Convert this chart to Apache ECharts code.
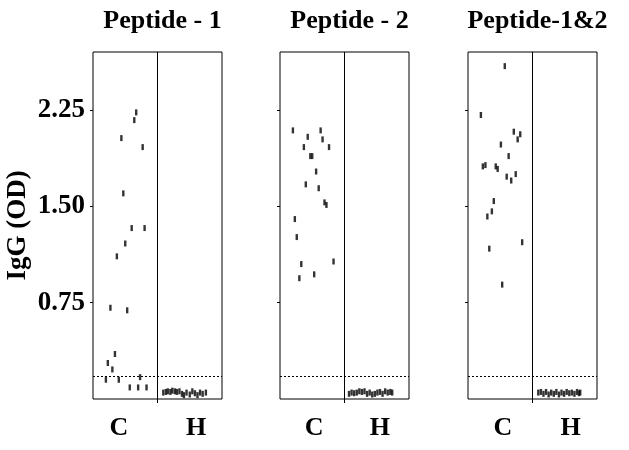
<!DOCTYPE html>
<html>
<head>
<meta charset="utf-8">
<script src="https://cdn.jsdelivr.net/npm/echarts@6/dist/echarts.min.js"></script>
<style>
html,body{margin:0;padding:0;background:#fff;}
#chart{width:629px;height:450px;}
</style>
</head>
<body>
<div id="chart"></div>
<script>
// ---- data ----
var panelTitles = ['Peptide - 1', 'Peptide - 2', 'Peptide-1&2'];
var groupLabels = ['C', 'H'];
var yTickValues = [0.75, 1.50, 2.25];
var cutoff = 0.18;

var p1C_y = [2.23,2.17,2.03,1.96,1.60,1.33,1.33,1.21,1.11,0.71,0.69,0.35,0.28,0.23,0.15,0.15,0.17,0.09,0.09,0.09];
var p1C_x = [0.67,0.64,0.44,0.77,0.47,0.60,0.80,0.50,0.37,0.27,0.53,0.34,0.23,0.30,0.20,0.40,0.73,0.57,0.70,0.83];
var p1H_y = [0.05,0.055,0.06,0.055,0.065,0.06,0.055,0.06,0.04,0.03,0.05,0.035,0.06,0.045,0.03,0.05,0.04,0.05];
var p1H_x = [1.09,1.13,1.16,1.20,1.23,1.27,1.30,1.34,1.38,1.41,1.45,1.50,1.54,1.58,1.62,1.66,1.70,1.75];

var p2C_y = [2.09,2.09,2.04,2.02,1.96,1.96,1.89,1.89,1.77,1.67,1.64,1.53,1.51,1.40,1.26,1.07,1.05,0.97,0.94];
var p2C_x = [0.20,0.63,0.43,0.66,0.37,0.76,0.47,0.50,0.56,0.40,0.60,0.69,0.72,0.23,0.26,0.83,0.33,0.53,0.30];
var p2H_y = [0.04,0.05,0.045,0.05,0.06,0.055,0.06,0.04,0.05,0.035,0.04,0.05,0.055,0.04,0.06,0.05,0.055,0.05];
var p2H_x = [1.07,1.11,1.15,1.19,1.23,1.27,1.31,1.35,1.39,1.43,1.47,1.51,1.55,1.59,1.63,1.67,1.71,1.74];

var p3C_y = [2.59,2.21,2.08,2.06,2.02,1.98,1.89,1.81,1.82,1.81,1.79,1.73,1.70,1.75,1.54,1.46,1.42,1.22,1.17,0.89];
var p3C_x = [0.57,0.20,0.71,0.81,0.77,0.51,0.63,0.23,0.27,0.43,0.46,0.60,0.67,0.74,0.40,0.37,0.30,0.84,0.33,0.53];
var p3H_y = [0.05,0.055,0.04,0.055,0.035,0.05,0.04,0.055,0.035,0.05,0.04,0.055,0.045,0.05,0.04,0.055,0.045,0.05];
var p3H_x = [1.09,1.13,1.17,1.21,1.25,1.29,1.33,1.37,1.41,1.45,1.49,1.53,1.57,1.61,1.65,1.69,1.72,1.74];

var panels = [
  {cx:p1C_x, cy:p1C_y, hx:p1H_x, hy:p1H_y, labelPos:[0.40,1.60]},
  {cx:p2C_x, cy:p2C_y, hx:p2H_x, hy:p2H_y, labelPos:[0.53,1.55]},
  {cx:p3C_x, cy:p3C_y, hx:p3H_x, hy:p3H_y, labelPos:[0.54,1.59]}
];

// ---- layout ----
var FONT = '"Liberation Serif","Times New Roman",serif';
var gridLefts = [93, 280, 468];
var gridW = 129, gridTop = 52, gridH = 347;

function zip(xs, ys){ return xs.map(function(x,i){ return [x, ys[i]]; }); }

var grids = [], xAxes = [], yAxes = [], series = [], titles = [];
panels.forEach(function(p, i){
  grids.push({left:gridLefts[i], top:gridTop, width:gridW, height:gridH,
    show:true, borderColor:'#000', borderWidth:1, backgroundColor:'transparent'});
  titles.push({text:panelTitles[i], left:gridLefts[i]+gridW/2, top:3, textAlign:'center',
    textStyle:{fontFamily:FONT, fontWeight:'bold', fontSize:26, color:'#000'}});
  var lp = p.labelPos;
  xAxes.push({type:'value', gridIndex:i, min:0, max:2, interval:1,
    axisLine:{show:false},
    splitLine:{show:true, lineStyle:{color:'#000', width:1}},
    axisTick:{show:true, customValues:[1], length:4, lineStyle:{color:'#000'}},
    axisLabel:{show:true, customValues:lp, margin:16,
      formatter:function(v){ return Math.abs(v-lp[0])<1e-6 ? groupLabels[0] : groupLabels[1]; },
      fontFamily:FONT, fontWeight:'bold', fontSize:26, color:'#000'}
  });
  yAxes.push({type:'value', gridIndex:i, min:0, max:2.7,
    name: i===0 ? 'IgG (OD)' : '', nameLocation:'middle', nameGap:61, nameRotate:90,
    nameTextStyle:{fontFamily:FONT, fontWeight:'bold', fontSize:27, color:'#000'},
    axisLine:{show:false},
    splitLine:{show:false},
    axisTick:{show:true, customValues:yTickValues, length:3, lineStyle:{color:'#000'}},
    axisLabel:{show:i===0, customValues:yTickValues, margin:8,
      formatter:function(v){ return v.toFixed(2); },
      fontFamily:FONT, fontWeight:'bold', fontSize:27, color:'#000'}
  });
  series.push({type:'scatter', xAxisIndex:i, yAxisIndex:i, data:zip(p.cx,p.cy),
    symbol:'rect', symbolSize:[2.4,6], itemStyle:{color:'#000'}, silent:true,
    markLine:{silent:true, symbol:'none', label:{show:false},
      lineStyle:{type:[2,2], color:'#000', width:1},
      data:[{yAxis:cutoff}]}});
  series.push({type:'scatter', xAxisIndex:i, yAxisIndex:i, data:zip(p.hx,p.hy),
    symbol:'rect', symbolSize:[2.4,6], itemStyle:{color:'#000'}, silent:true});
});

var chart = echarts.init(document.getElementById('chart'), null, {renderer:'canvas'});
chart.setOption({
  animation:false,
  backgroundColor:'#fff',
  title:titles,
  grid:grids,
  xAxis:xAxes,
  yAxis:yAxes,
  series:series
});
</script>
</body>
</html>
